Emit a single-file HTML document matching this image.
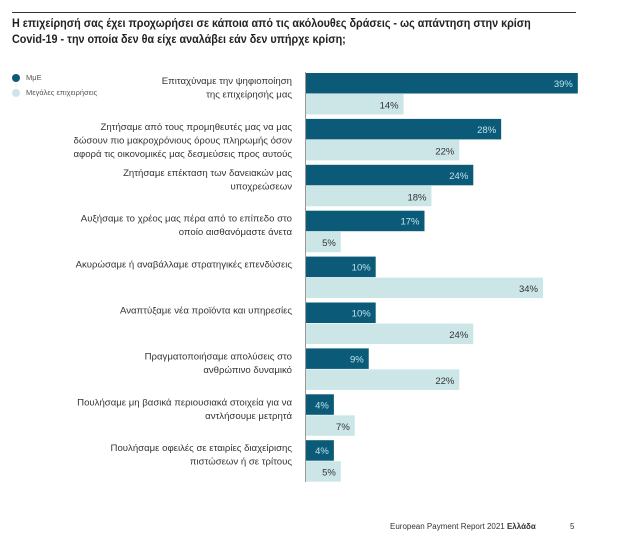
<!DOCTYPE html>
<html><head><meta charset="utf-8"><style>
body{margin:0;width:617px;height:542px;background:#fff;font-family:"Liberation Sans","Noto Sans CJK SC",sans-serif;position:relative;overflow:hidden}
.t{position:absolute;color:#222}
</style></head><body>
<div style="position:absolute;left:12px;top:12px;width:564px;height:1px;background:#333"></div>
<div class="t" style="left:12px;top:15px;font-size:12.2px;line-height:16px;color:#222;font-weight:bold;white-space:nowrap;transform:scaleX(0.885);transform-origin:0 0">Η επιχείρησή σας έχει προχωρήσει σε κάποια από τις ακόλουθες δράσεις - ως απάντηση στην κρίση<br>Covid-19 - την οποία δεν θα είχε αναλάβει εάν δεν υπήρχε κρίση;</div>
<div style="position:absolute;left:12px;top:73px;font-size:7.5px;color:#555"><span style="display:inline-block;width:8px;height:8px;border-radius:50%;background:#0b5a78;vertical-align:middle;margin-right:6px"></span>ΜμΕ</div>
<div style="position:absolute;left:12px;top:88px;font-size:7.5px;color:#555"><span style="display:inline-block;width:8px;height:8px;border-radius:50%;background:#cce6e8;vertical-align:middle;margin-right:6px"></span>Μεγάλες επιχειρήσεις</div>
<svg id="chart" width="617" height="542" style="position:absolute;left:0;top:0"></svg>
<div class="t" style="left:390px;top:522px;font-size:8px;color:#333">European Payment Report 2021 <b>Ελλάδα</b></div>
<div class="t" style="left:570px;top:522px;font-size:8px;color:#333">5</div>
<script>
const categories=[["Επιταχύναμε την ψηφιοποίηση","της επιχείρησής μας"],["Ζητήσαμε από τους προμηθευτές μας να μας","δώσουν πιο μακροχρόνιους όρους πληρωμής όσον","αφορά τις οικονομικές μας δεσμεύσεις προς αυτούς"],["Ζητήσαμε επέκταση των δανειακών μας","υποχρεώσεων"],["Αυξήσαμε το χρέος μας πέρα από το επίπεδο στο","οποίο αισθανόμαστε άνετα"],["Ακυρώσαμε ή αναβάλλαμε στρατηγικές επενδύσεις"],["Αναπτύξαμε νέα προϊόντα και υπηρεσίες"],["Πραγματοποιήσαμε απολύσεις στο","ανθρώπινο δυναμικό"],["Πουλήσαμε μη βασικά περιουσιακά στοιχεία για να","αντλήσουμε μετρητά"],["Πουλήσαμε οφειλές σε εταιρίες διαχείρισης","πιστώσεων ή σε τρίτους"]];
const smeValues=[39,28,24,17,10,10,9,4,4];
const largeValues=[14,22,18,5,34,24,22,7,5];
const NS="http://www.w3.org/2000/svg";
const svg=document.getElementById('chart');
const x0=306,pxPer=6.97,y0=73,pitch=45.9,bh=20.5;
const xs=v=>v*pxPer;
const yg=i=>y0+i*pitch;
function mk(t,a){const e=document.createElementNS(NS,t);for(const k in a)e.setAttribute(k,a[k]);svg.appendChild(e);return e;}
const ax=mk('line',{x1:305.5,x2:305.5,y1:72,y2:482,stroke:'#999','stroke-width':1});


categories.forEach((lines,i)=>{
  const y=yg(i);
  const r1=mk('rect',{x:x0,y:y,width:xs(smeValues[i]),height:bh,fill:'#0b5a78'});
  
  
  const t1=mk('text',{x:x0+xs(smeValues[i])-5,y:y+14,'text-anchor':'end','font-size':'9.5',fill:'#bfe3ec','font-family':'Liberation Sans, sans-serif'});
  t1.textContent=smeValues[i]+'%';
  
  
  const r2=mk('rect',{x:x0,y:y+bh+0.5,width:xs(largeValues[i]),height:bh,fill:'#cce6e8'});
  
  
  const t2=mk('text',{x:x0+xs(largeValues[i])-5,y:y+bh+15,'text-anchor':'end','font-size':'9.5',fill:'#333','font-family':'Liberation Sans, sans-serif'});
  t2.textContent=largeValues[i]+'%';
  
  
  lines.forEach((ln,j)=>{
    const tl=mk('text',{x:292,y:y+11+j*13.5,'text-anchor':'end','font-size':'9.6',fill:'#333','font-family':'Liberation Sans, Noto Sans CJK SC, sans-serif'});
    tl.textContent=ln;
    
    
  });
});
</script>
</body></html>
